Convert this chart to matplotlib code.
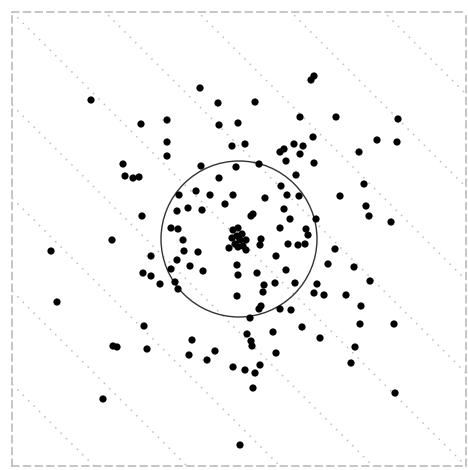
import numpy as np
import matplotlib.pyplot as plt
from matplotlib.patches import Circle

# point coordinates
xs = [-1.48, -0.39, -0.21, -0.98, -0.72, -0.20, -0.01, -0.72, -0.72, -0.07,
      -1.16, -1.14, -1.06, -1.00, -0.38, -0.03, -0.20, -0.60, -0.43, -0.29,
      -0.06, -0.62, -0.51, -0.37, -0.14, -0.97, -0.68, -0.61, -1.27, -0.56,
      0.72, 0.75, 0.16, 0.61, 0.97, 1.59, 0.06, 0.74, 0.55, 0.64,
      0.41, 0.45, 0.61, 1.38, 1.58, 1.20, 0.47, 0.75, 0.20, 0.57,
      1.25, 0.42, 0.48, 0.60, 1.01, 0.26, 1.27, 1.30, 1.52, 0.45,
      0.51, 0.12, 0.14, 0.77, 0.41, 0.67, 0.69, 0.22,
      -1.88, -1.82, -0.88, -0.96, -0.88, -0.79, -0.68, -0.62, -0.55, -0.41,
      -0.49, -0.36, -0.64, -0.61, -0.10, -0.02, -0.01, -0.02, -0.95, -0.47,
      -1.26, -1.22, -0.92, -0.50, -0.24, -0.32, -0.06, -1.36, 0.01,
      0.21, 0.49, 0.59, 0.66, 0.96, 0.37, 0.89, 1.15, 0.47, 0.18,
      1.31, 0.36, 0.25, 0.24, 0.56, 0.78, 0.75, 0.85, 1.07, 1.22,
      0.20, 0.22, 0.41, 0.52, 0.11, 1.21, 1.55, 0.63, 0.34, 0.08,
      0.12, 0.13, 0.81, 1.16, 0.37, 1.12, 0.21, 0.06, 0.16, 0.14, 1.56,
      -0.06, -0.01, -0.02, 0.03, -0.07, 0.01, 0.07, 0.04, -0.04, 0.07, -0.01]
ys = [1.39, 1.51, 1.36, 1.15, 1.19, 1.14, 1.16, 0.97, 0.83, 0.93,
      0.75, 0.63, 0.61, 0.62, 0.73, 0.72, 0.61, 0.44, 0.48, 0.44,
      0.44, 0.28, 0.31, 0.29, 0.35, 0.23, 0.11, 0.10, -0.01, -0.01,
      1.59, 1.63, 1.37, 1.22, 1.22, 1.20, 0.95, 1.02, 0.95, 0.93,
      0.87, 0.90, 0.85, 0.99, 0.97, 0.87, 0.78, 0.76, 0.75, 0.64,
      0.55, 0.53, 0.44, 0.43, 0.43, 0.41, 0.33, 0.23, 0.17, 0.30,
      0.20, 0.23, 0.25, 0.20, 0.11, 0.10, 0.04, 0.00,
      -0.12, -0.63, -0.17, -0.34, -0.37, -0.45, -0.30, -0.21, -0.12, -0.13,
      -0.27, -0.32, -0.43, -0.50, -0.09, -0.26, -0.36, -0.57, -0.87, -1.01,
      -1.07, -1.08, -1.10, -1.16, -1.12, -1.21, -1.28, -1.60, -2.06,
      -0.06, -0.05, -0.06, -0.05, -0.10, -0.17, -0.25, -0.28, -0.31, -0.34,
      -0.42, -0.44, -0.46, -0.53, -0.44, -0.45, -0.54, -0.56, -0.56, -0.67,
      -0.70, -0.67, -0.70, -0.71, -0.79, -0.85, -0.85, -0.88, -0.93, -0.95,
      -1.02, -1.07, -0.99, -1.08, -1.14, -1.24, -1.26, -1.31, -1.34, -1.49, -1.54,
      0.09, 0.11, 0.03, 0.05, 0.01, -0.01, -0.01, -0.07, -0.05, -0.11, -0.08]

lim = 2.27
radius = 0.78
diag_levels = [-3.72, -2.79, -1.86, -0.93, 0.0, 0.93, 1.86, 2.79, 3.72]

fig = plt.figure(figsize=(4.68, 4.70), dpi=100)
ax = fig.add_axes([12 / 468, 4 / 470, 454 / 468, 454 / 470])

# diagonal guide lines x + y = c
t = np.array([-lim, lim])
for c in diag_levels:
    ax.plot(t, c - t, color='#bdbdbd', lw=1.1, linestyle=(0, (1, 4)), zorder=1)

ax.add_patch(Circle((0, 0), radius, fill=False, ec='#333333', lw=1, zorder=2))
ax.scatter(xs, ys, s=27, color='black', edgecolors='none', zorder=3)

ax.set_xlim(-lim, lim)
ax.set_ylim(-lim, lim)
ax.set_xticks([])
ax.set_yticks([])
for sp in ax.spines.values():
    sp.set_linestyle((0, (4, 3)))
    sp.set_color('#bbbbbb')
    sp.set_linewidth(1.2)

plt.savefig('out.png', dpi=100)
